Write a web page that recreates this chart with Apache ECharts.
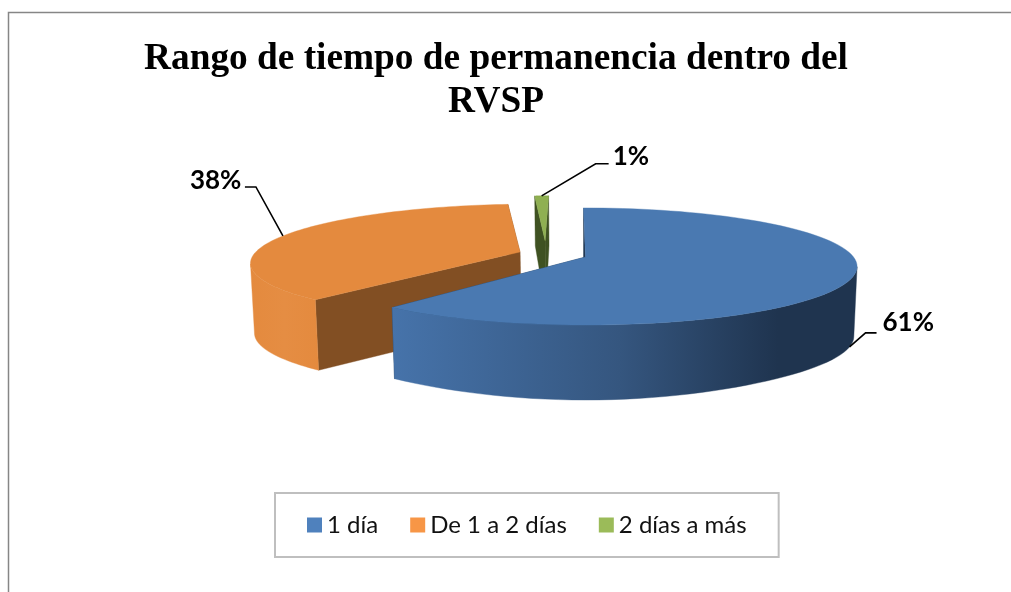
<!DOCTYPE html>
<html>
<head>
<meta charset="utf-8">
<style>
  html, body { margin: 0; padding: 0; background: #fff; }
  #chart { width: 1011px; height: 592px; }
</style>
<script src="https://cdn.jsdelivr.net/npm/echarts@6/dist/echarts.min.js"></script>
</head>
<body>
<div id="chart"></div>
<script>
const categories = ['1 día', 'De 1 a 2 días', '2 días a más'];
const percentages = [61, 38, 1];
const titleText = 'Rango de tiempo de permanencia dentro del\nRVSP';

// 3D pie projection, fitted to the picture
const cx = 585.5, cy = 257, rx = 268, ry = 57, persp = 0.162;
const firstAngle = -0.5;
// how far each slice is pulled out, in units of the radius, and small trims of its two edges in degrees
const sliceOffsets = [[0, 0], [-0.248, -0.09], [-0.158, -0.30]];
const sliceTrims = [[0, 0], [1.5, -1.2], [0, 0]];
const legendColors = ['#4F81BD', '#F79646', '#9BBB59'];
const topColors = ['#4A79B1', '#E48A3E', '#8FB052'];
const wallColors = ['#1F344F', '#824F23', '#3F5222'];
const sideStops = [
  [[0, '#4673AA'], [0.49, '#35567F'], [0.83, '#1F344F'], [1, '#1F344F']],
  [[0, '#E48A3E'], [0.5, '#E58D43'], [1, '#E48A3E']],
  [[0, '#3F5222'], [1, '#3F5222']]
];
// label box offset and elbow, relative to the point on the slice
const leaders = [
  { elbow: [16, -14], end: [27, -14], label: [33, -24], bottom: true },
  { elbow: [-27, -49], end: [-38, -49], label: [-93, -55], bottom: false },
  { elbow: [54, -32], end: [67, -32], label: [71, -39], bottom: false }
];

function depth(v) {
  return v < 0 ? 70 + 15.4 * v : 70 + 5 * Math.pow(v, 6);
}

function project(u, v, bottom) {
  const d = 1 - persp * v;
  const s = bottom ? 0.988 : 1;
  return [
    cx + s * rx * u / d,
    cy + ry * v / d + (bottom ? depth(v) : 0)
  ];
}

function sliceAngles(i) {
  const total = percentages.reduce((a, b) => a + b, 0);
  const before = percentages.slice(0, i).reduce((a, b) => a + b, 0);
  return [
    firstAngle + sliceTrims[i][0] + before / total * 360,
    firstAngle + sliceTrims[i][1] + (before + percentages[i]) / total * 360
  ];
}

function rimPoint(i, deg) {
  const r = deg * Math.PI / 180;
  return [sliceOffsets[i][0] + Math.sin(r), sliceOffsets[i][1] - Math.cos(r)];
}

function poly(points, fill, z2) {
  return {
    type: 'polygon',
    z2: z2,
    silent: true,
    shape: { points: points },
    style: { fill: fill, stroke: fill, lineWidth: 0.4 }
  };
}

// part of the rim the viewer can see, cut at the silhouette so the band does not cross itself
function visibleRim(i, rim) {
  const facing = rim.filter((p) => (p[1] - sliceOffsets[i][1]) > -0.5);
  if (facing.length < 2) return [];
  const xs = facing.map((p) => project(p[0], p[1], false)[0]);
  if (i === 0) return facing.slice(xs.indexOf(Math.max.apply(null, xs)));
  return facing.slice(0, xs.indexOf(Math.min.apply(null, xs)) + 1);
}

function renderSlice(params, api) {
  const i = params.seriesIndex;
  const value = api.value(0);
  const [a0, a1] = sliceAngles(i);
  const off = sliceOffsets[i];
  const steps = 90;
  const rim = [];
  for (let s = 0; s <= steps; s++) rim.push(rimPoint(i, a0 + (a1 - a0) * s / steps));

  const children = [];
  const first = rim[0], last = rim[steps];

  // radial walls, the far one first
  const wall = (p) => poly([
    project(off[0], off[1], false), project(p[0], p[1], false),
    project(p[0], p[1], true), project(off[0], off[1], true)
  ], wallColors[i], 1);
  children.push(wall(last));
  children.push(wall(first));

  // outer wall
  const front = visibleRim(i, rim);
  if (front.length > 1) {
    const upper = front.map((p) => project(p[0], p[1], false));
    const lower = front.map((p) => project(p[0], p[1], true)).reverse();
    const xs = upper.concat(lower).map((p) => p[0]);
    children.push(poly(upper.concat(lower), {
      type: 'linear',
      global: true,
      x: Math.min.apply(null, xs), y: 0,
      x2: Math.max.apply(null, xs), y2: 0,
      colorStops: sideStops[i].map((st) => ({ offset: st[0], color: st[1] }))
    }, 2));
  }

  // top face
  children.push(poly(
    [project(off[0], off[1], false)].concat(rim.map((p) => project(p[0], p[1], false))),
    topColors[i], 3
  ));

  // leader line and percentage
  const lead = leaders[i];
  const mid = rimPoint(i, (a0 + a1) / 2);
  const anchor = project(mid[0], mid[1], lead.bottom);
  children.push({
    type: 'polyline',
    z2: 4,
    silent: true,
    shape: {
      points: [
        anchor,
        [anchor[0] + lead.elbow[0], anchor[1] + lead.elbow[1]],
        [anchor[0] + lead.end[0], anchor[1] + lead.end[1]]
      ]
    },
    style: { stroke: '#000', lineWidth: 1.6, fill: null }
  });
  children.push({
    type: 'text',
    z2: 5,
    silent: true,
    style: {
      x: anchor[0] + lead.label[0],
      y: anchor[1] + lead.label[1],
      text: value + '%',
      fill: '#000',
      font: 'bold 26px Lato',
      textAlign: 'left',
      textVerticalAlign: 'middle'
    }
  });
  return { type: 'group', children: children };
}

const chart = echarts.init(document.getElementById('chart'));
chart.setOption({
  animation: false,
  backgroundColor: '#fff',
  title: {
    text: titleText,
    left: 491,
    top: 33,
    textAlign: 'center',
    textStyle: {
      fontFamily: 'Liberation Serif',
      fontWeight: 'bold',
      fontSize: 37.3,
      lineHeight: 43,
      color: '#000'
    }
  },
  legend: {
    left: 275,
    top: 493,
    padding: [20, 32, 20, 32],
    borderColor: '#BFBFBF',
    borderWidth: 2,
    icon: 'rect',
    itemWidth: 15,
    itemHeight: 15,
    itemGap: 32,
    selectedMode: false,
    data: categories,
    textStyle: { fontFamily: 'Lato', fontSize: 24, color: '#111' }
  },
  graphic: [{
    type: 'polyline',
    silent: true,
    shape: { points: [[8.5, 600], [8.5, 12.5], [1020, 12.5]] },
    style: { stroke: '#868686', lineWidth: 1.5, fill: null }
  }],
  // paint back to front: green, orange, blue
  series: categories.map((name, i) => ({
    type: 'custom',
    name: name,
    coordinateSystem: 'none',
    z: 5 - i === 5 ? 7 : 5 - i,
    itemStyle: { color: legendColors[i] },
    data: [[percentages[i]]],
    renderItem: renderSlice
  }))
});
</script>
</body>
</html>
